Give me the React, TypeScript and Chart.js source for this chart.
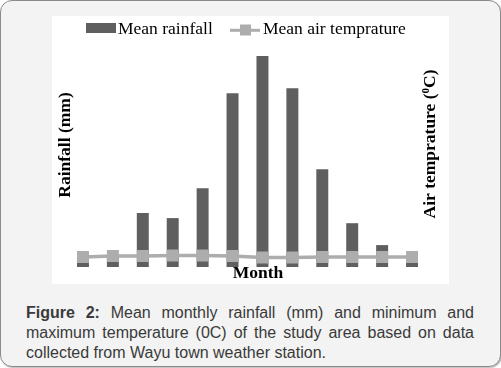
import React, { useEffect, useRef } from "react";
import { Chart, registerables } from "chart.js";

Chart.register(...registerables);

const months = ["Jan", "Feb", "Mar", "Apr", "May", "Jun", "Jul", "Aug", "Sep", "Oct", "Nov", "Dec"];
const rainfall = [10, 12, 74, 67, 108, 238, 289, 245, 134, 60, 30, 6];
const airTemp = [18.3, 20.1, 20.1, 21, 21, 20.1, 17.4, 17.4, 18.3, 18.3, 18.3, 18.3];
const legendLabels = ["Mean rainfall", "Mean air temprature"];
const rainTitle = "Rainfall (mm)";
const tempTitleParts = ["Air temprature (", "0", "C)"];
const xTitle = "Month";

const BAR = "#5f5f5f";
const LINE = "#adadad";
const SERIF = "'Liberation Serif', 'Times New Roman', serif";

const decor = {
  id: "decor",
  afterDraw(chart: any) {
    const ctx = chart.ctx as CanvasRenderingContext2D;
    const ca = chart.chartArea;
    ctx.save();
    ctx.fillStyle = "#000";
    // legend
    ctx.fillStyle = BAR;
    ctx.fillRect(34, 7, 30, 10);
    ctx.strokeStyle = LINE;
    ctx.lineWidth = 3;
    ctx.beginPath();
    ctx.moveTo(178, 14.3);
    ctx.lineTo(208, 14.3);
    ctx.stroke();
    ctx.fillStyle = LINE;
    ctx.fillRect(188, 8.5, 11, 11);
    ctx.fillStyle = "#000";
    ctx.font = `17.5px ${SERIF}`;
    ctx.textAlign = "left";
    ctx.textBaseline = "alphabetic";
    ctx.fillText(legendLabels[0], 66, 17.7);
    ctx.fillText(legendLabels[1], 211, 17.7);

    // x title
    ctx.font = `bold 17.5px ${SERIF}`;
    ctx.textAlign = "center";
    ctx.fillText(xTitle, ca.left + (ca.right - ca.left) / 2 + 10.5, 262);

    // left title
    ctx.save();
    ctx.translate(ca.left + 2, ca.top + 97);
    ctx.rotate(-Math.PI / 2);
    ctx.textAlign = "center";
    ctx.fillText(rainTitle, 0, 0);
    ctx.restore();

    // right title with superscript
    ctx.save();
    ctx.translate(ca.right + 8, ca.top + 96);
    ctx.rotate(-Math.PI / 2);
    ctx.textAlign = "left";
    const big = `bold 17.5px ${SERIF}`;
    const small = `bold 11px ${SERIF}`;
    ctx.font = big;
    const w1 = ctx.measureText(tempTitleParts[0]).width;
    const w3 = ctx.measureText(tempTitleParts[2]).width;
    ctx.font = small;
    const w2 = ctx.measureText(tempTitleParts[1]).width;
    let x = -(w1 + w2 + w3) / 2;
    ctx.font = big;
    ctx.fillText(tempTitleParts[0], x, 0);
    x += w1;
    ctx.font = small;
    ctx.fillText(tempTitleParts[1], x, -6.5);
    x += w2;
    ctx.font = big;
    ctx.fillText(tempTitleParts[2], x, 0);
    ctx.restore();

    ctx.restore();
  },
};

export default function App() {
  const ref = useRef<HTMLCanvasElement>(null);
  useEffect(() => {
    if (!ref.current) return;
    const chart = new Chart(ref.current, {
      type: "bar",
      data: {
        labels: months,
        datasets: [
          {
            type: "line",
            label: legendLabels[1],
            data: airTemp,
            yAxisID: "y1",
            borderColor: LINE,
            backgroundColor: LINE,
            borderWidth: 3.5,
            pointStyle: "rect",
            pointRadius: 8.5,
            pointBorderWidth: 0,
            pointBackgroundColor: LINE,
            tension: 0,
            order: 0,
          } as any,
          {
            type: "bar",
            label: legendLabels[0],
            data: rainfall,
            yAxisID: "y",
            backgroundColor: BAR,
            barPercentage: 0.8,
            categoryPercentage: 0.5,
            order: 1,
          },
        ],
      },
      options: {
        responsive: false,
        animation: false,
        devicePixelRatio: 1,
        layout: { padding: { left: 16, right: 22, top: 32, bottom: 17 } },
        plugins: { legend: { display: false }, tooltip: { enabled: false } },
        scales: {
          x: { display: false, offset: true },
          y: { display: false, min: 0, max: 300 },
          y1: { display: false, position: "right", min: 0, max: 400 },
        },
      },
      plugins: [decor],
    });
    return () => chart.destroy();
  }, []);

  return (
    <div
      style={{
        position: "fixed",
        left: 0,
        top: 0,
        width: 501,
        height: 368,
        background: "#fff",
      }}
    >
      <div
        style={{
          position: "absolute",
          left: 0,
          top: 0,
          width: 499,
          height: 365,
          border: "1px solid #8a8a8a",
          borderRadius: 12,
          background: "#f2f3f2",
          boxShadow: "1px 1px 1px rgba(0,0,0,0.25)",
        }}
      />
      <div style={{ position: "absolute", left: 52, top: 16, width: 397, height: 268, background: "#fff" }}>
        <canvas ref={ref} width={397} height={268} style={{ display: "block" }} />
      </div>
      <div
        style={{
          position: "absolute",
          left: 26,
          top: 303,
          width: 448,
          fontFamily: "'Liberation Sans', Arial, sans-serif",
          fontSize: 16,
          lineHeight: "20px",
          color: "#3a3a3a",
          textAlign: "justify",
        }}
      >
        <b>Figure 2:</b> Mean monthly rainfall (mm) and minimum and maximum temperature (0C) of the study area based on data collected from Wayu town weather station.
      </div>
    </div>
  );
}
